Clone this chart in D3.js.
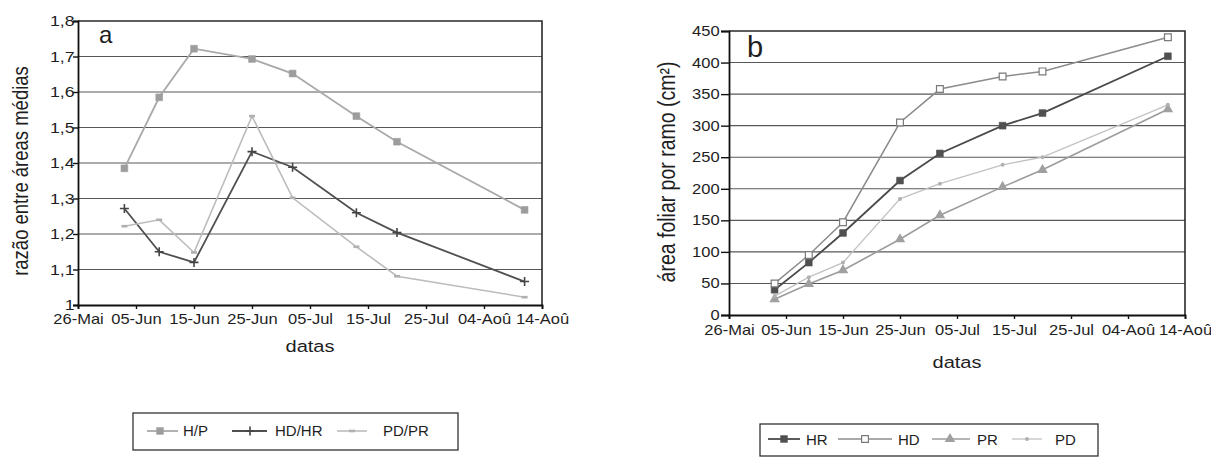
<!DOCTYPE html>
<html>
<head>
<meta charset="utf-8">
<script src="https://cdn.jsdelivr.net/npm/d3@7"></script>
<style>
  body { margin: 0; background: #fff; }
  svg { display: block; }
  text { font-family: "Liberation Sans", Arial, sans-serif; fill: #1e1e1e; }
</style>
</head>
<body>
<svg id="chart" width="1211" height="459"></svg>
<script>
// ---- data -------------------------------------------------------------
const tickLabels  = ["26-Mai", "05-Jun", "15-Jun", "25-Jun", "05-Jul", "15-Jul", "25-Jul", "04-Aoû", "14-Aoû"];
const sampleDates = ["03-Jun", "09-Jun", "15-Jun", "25-Jun", "02-Jul", "13-Jul", "20-Jul", "11-Aoû"];

// (a) razão entre áreas médias
const ratioTicks = [1, 1.1, 1.2, 1.3, 1.4, 1.5, 1.6, 1.7, 1.8];
const ratioHP    = [1.385, 1.585, 1.722, 1.693, 1.652, 1.532, 1.460, 1.268];
const ratioHDHR  = [1.272, 1.150, 1.120, 1.432, 1.388, 1.260, 1.204, 1.066];
const ratioPDPR  = [1.222, 1.240, 1.148, 1.532, 1.302, 1.164, 1.081, 1.022];

// (b) área foliar por ramo (cm²)
const areaTicks = [0, 50, 100, 150, 200, 250, 300, 350, 400, 450];
const areaHR = [40, 83, 130, 213, 256, 300, 320, 410];
const areaHD = [50, 95, 147, 305, 358, 378, 386, 440];
const areaPR = [25, 49, 71, 120, 158, 203, 230, 326];
const areaPD = [30, 60, 83, 184, 208, 238, 250, 333];

// ---- helpers ----------------------------------------------------------
const monthIdx = { "Mai": 4, "Jun": 5, "Jul": 6, "Aoû": 7 };
const parseDay = s => { const [d, m] = s.split("-"); return new Date(2001, monthIdx[m], +d); };
const tickDates = tickLabels.map(parseDay);
const dates = sampleDates.map(parseDay);

const SX = 1.18; // horizontal stretch of the typeface
const svg = d3.select("#chart");

const markers = {
  squareFill: (g, c) => g.append("path").attr("d", d3.symbol(d3.symbolSquare, 46)()).attr("fill", c.mark).attr("stroke", c.mark).attr("stroke-width", 0.6),
  squareOpen: (g, c) => g.append("path").attr("d", d3.symbol(d3.symbolSquare, 46)()).attr("fill", "#fff").attr("stroke", c.mark).attr("stroke-width", 1.2),
  triangle:   (g, c) => g.append("path").attr("d", d3.symbol(d3.symbolTriangle, 48)()).attr("fill", c.mark),
  plus:       (g, c) => g.append("path").attr("d", "M-4.5,0H4.5M0,-4.5V4.5").attr("stroke", c.mark).attr("stroke-width", 1.6).attr("fill", "none"),
  dash:       (g, c) => g.append("path").attr("d", "M-3,0H3").attr("stroke", c.mark).attr("stroke-width", 2.6),
  dot:        (g, c) => g.append("circle").attr("r", 2).attr("fill", c.mark)
};

function drawPanel(p) {
  const x = d3.scaleTime().domain([tickDates[0], tickDates[tickDates.length - 1]]).range(p.xRange);
  const y = d3.scaleLinear().domain([p.yTicks[0], p.yTicks[p.yTicks.length - 1]]).range(p.yRange);
  const g = svg.append("g");

  // horizontal grid lines
  g.append("g").selectAll("line").data(p.yTicks.slice(1, -1)).join("line")
    .attr("x1", p.xRange[0]).attr("x2", p.xRange[1])
    .attr("y1", d => y(d)).attr("y2", d => y(d))
    .attr("stroke", "#585858").attr("stroke-width", 1.1);

  // frame: top and right borders
  g.append("path")
    .attr("d", `M${p.xRange[0]},${p.yRange[1]}H${p.xRange[1]}V${p.yRange[0]}`)
    .attr("fill", "none").attr("stroke", "#2a2a2a").attr("stroke-width", 1.6);

  // y axis
  const ya = g.append("g").attr("transform", `translate(${p.xRange[0]},0)`)
    .call(d3.axisLeft(y).tickValues(p.yTicks).tickSize(p.yTickLen).tickPadding(p.yPad)
      .tickFormat(p.yFormat));
  ya.select(".domain").attr("stroke", "#111").attr("stroke-width", 1.8);
  ya.selectAll(".tick line").attr("stroke", "#111").attr("stroke-width", 1.4);
  ya.selectAll(".tick text").attr("font-size", p.yFont).attr("fill", "#1e1e1e")
    .attr("font-family", "Liberation Sans, Arial, sans-serif")
    .attr("transform", `scale(${SX},1)`);

  // x axis
  const xa = g.append("g").attr("transform", `translate(0,${p.yRange[0]})`)
    .call(d3.axisBottom(x).tickValues(tickDates).tickSize(4).tickPadding(p.xPad)
      .tickFormat((d, i) => tickLabels[i]));
  xa.select(".domain").attr("stroke", "#111").attr("stroke-width", 1.8);
  xa.selectAll(".tick line").attr("stroke", "#111").attr("stroke-width", 1.4);
  xa.selectAll(".tick text").attr("font-size", 14).attr("fill", "#1e1e1e")
    .attr("font-family", "Liberation Sans, Arial, sans-serif")
    .attr("transform", `scale(${SX},1)`);

  // titles
  g.append("text")
    .attr("transform", `translate(${(p.xRange[0] + p.xRange[1]) / 2},${p.xTitleY}) scale(${SX},1)`)
    .attr("text-anchor", "middle").attr("dominant-baseline", "central")
    .attr("font-size", 17).text("datas");
  g.append("text")
    .attr("transform", `translate(${p.yTitleX},${p.yTitleY}) rotate(-90) scale(1,${SX})`)
    .attr("text-anchor", "middle").attr("dominant-baseline", "central")
    .attr("font-size", p.yTitleFont).text(p.yTitle);
  g.append("text")
    .attr("x", p.tag[0]).attr("y", p.tag[1])
    .attr("font-size", p.tag[2]).text(p.tag[3]);

  // series
  p.series.forEach(s => {
    const pts = s.values.map((v, i) => [x(dates[i]), y(v)]);
    g.append("path").attr("d", d3.line()(pts))
      .attr("fill", "none").attr("stroke", s.line).attr("stroke-width", s.width);
    pts.forEach(pt => {
      const m = g.append("g").attr("transform", `translate(${pt[0]},${pt[1]})`);
      markers[s.marker](m, s);
    });
  });

  // legend
  const L = p.legend;
  g.append("rect").attr("x", L.box[0]).attr("y", L.box[1])
    .attr("width", L.box[2] - L.box[0]).attr("height", L.box[3] - L.box[1])
    .attr("fill", "#fff").attr("stroke", "#333").attr("stroke-width", 1.3);
  p.series.forEach((s, i) => {
    const it = L.items[i];
    g.append("line").attr("x1", it[0]).attr("x2", it[1])
      .attr("y1", L.lineY).attr("y2", L.lineY)
      .attr("stroke", s.line).attr("stroke-width", s.width);
    const m = g.append("g").attr("transform", `translate(${it[2]},${L.lineY})`);
    markers[s.marker](m, s);
    g.append("text").attr("x", it[3]).attr("y", L.textY)
      .attr("font-size", 15).attr("dominant-baseline", "central").text(s.name);
  });
}

const fmtComma = d => d3.format("~g")(d).replace(".", ",");

drawPanel({
  xRange: [78, 542], yRange: [305, 21], yTicks: ratioTicks,
  yFormat: fmtComma, yTickLen: 5, yPad: -2, yFont: 15, xPad: 5.5,
  xTitleY: 346, yTitleX: 20, yTitleY: 171, yTitleFont: 18.5,
  yTitle: "razão entre áreas médias",
  tag: [99, 43, 24, "a"],
  series: [
    { name: "H/P",   values: ratioHP,   line: "#a9a9a9", mark: "#9d9d9d", width: 1.8, marker: "squareFill" },
    { name: "HD/HR", values: ratioHDHR, line: "#505050", mark: "#454545", width: 1.8, marker: "plus" },
    { name: "PD/PR", values: ratioPDPR, line: "#bcbcbc", mark: "#b0b0b0", width: 1.6, marker: "dash" }
  ],
  legend: {
    box: [133, 413, 458, 450], lineY: 431, textY: 430,
    items: [[147, 178, 160, 183], [232, 267, 250, 275], [337, 367, 352, 383]]
  }
});

drawPanel({
  xRange: [729, 1185], yRange: [315, 31], yTicks: areaTicks,
  yFormat: d3.format("d"), yTickLen: 8, yPad: 0, yFont: 14, xPad: 6,
  xTitleY: 362, yTitleX: 667, yTitleY: 172, yTitleFont: 19.5,
  yTitle: "área foliar por ramo (cm²)",
  tag: [747, 57, 29, "b"],
  series: [
    { name: "HR", values: areaHR, line: "#4a4a4a", mark: "#505050", width: 1.8, marker: "squareFill" },
    { name: "HD", values: areaHD, line: "#8c8c8c", mark: "#7a7a7a", width: 1.5, marker: "squareOpen" },
    { name: "PR", values: areaPR, line: "#9c9c9c", mark: "#a0a0a0", width: 1.6, marker: "triangle" },
    { name: "PD", values: areaPD, line: "#c2c2c2", mark: "#b0b0b0", width: 1.3, marker: "dot" }
  ],
  legend: {
    box: [760, 424, 1098, 456], lineY: 439, textY: 439,
    items: [[768, 800, 784, 806], [838, 892, 865, 898], [932, 970, 950, 977], [1012, 1042, 1027, 1055]]
  }
});
</script>
</body>
</html>
